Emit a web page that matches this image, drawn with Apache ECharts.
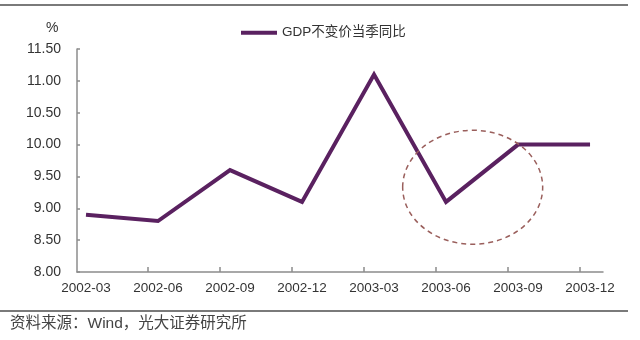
<!DOCTYPE html>
<html>
<head>
<meta charset="utf-8">
<script src="https://cdn.jsdelivr.net/npm/echarts@6/dist/echarts.min.js"></script>
<style>
  html, body { margin: 0; padding: 0; background: #fff; }
  #chart { width: 640px; height: 340px; }
</style>
</head>
<body>
<div id="chart"></div>
<script>
// Quarterly real GDP growth, year on year (%)
const quarters = ['2002-03', '2002-06', '2002-09', '2002-12', '2003-03', '2003-06', '2003-09', '2003-12'];
const gdpYoY = [8.9, 8.8, 9.6, 9.1, 11.1, 9.1, 10.0, 10.0];
const yTicks = { min: 8, max: 11.5, step: 0.5 };
const seriesName = 'GDP不变价当季同比';
const sourceNote = '资料来源：Wind，光大证券研究所';

const FONT = '"Liberation Sans", Arial, "Noto Sans CJK SC", sans-serif';
const LINE_COLOR = '#5a2160';

// Tick marks sit just before each quarter point (date-style axis)
const tickOffset = 0.86;
const tickPositions = quarters.slice(1).map((_, i) => i + tickOffset);

const chart = echarts.init(document.getElementById('chart'), null, { renderer: 'canvas' });

chart.setOption({
  animation: false,
  backgroundColor: '#fff',
  grid: { left: 77, right: 37, top: 49, bottom: 68, containLabel: false },
  legend: {
    data: [{ name: seriesName, icon: 'rect' }],
    left: 236,
    top: 21,
    itemWidth: 36,
    itemHeight: 4,
    itemGap: 4,
    textStyle: { fontFamily: FONT, fontSize: 13.5, color: '#333' }
  },
  xAxis: {
    type: 'value',
    min: -0.125,
    max: 7.18,
    splitLine: { show: false },
    axisLine: { show: true, onZero: false, lineStyle: { color: '#8c8c8c', width: 1.5 } },
    axisTick: { show: true, inside: true, length: 5, customValues: tickPositions, lineStyle: { color: '#8c8c8c', width: 1.5 } },
    axisLabel: {
      customValues: quarters.map((_, i) => i),
      formatter: v => quarters[Math.round(v)],
      fontFamily: FONT, fontSize: 13.5, color: '#333', margin: 10
    }
  },
  yAxis: {
    type: 'value',
    min: yTicks.min,
    max: yTicks.max,
    interval: yTicks.step,
    splitLine: { show: false },
    axisLine: { show: true, onZero: false, lineStyle: { color: '#8c8c8c', width: 1.5 } },
    axisTick: { show: true, inside: true, length: 3, lineStyle: { color: '#8c8c8c', width: 1.5 } },
    axisLabel: {
      formatter: v => v.toFixed(2),
      fontFamily: FONT, fontSize: 14, color: '#333', margin: 16
    }
  },
  series: [{
    name: seriesName,
    type: 'line',
    data: gdpYoY.map((v, i) => [i, v]),
    showSymbol: false,
    symbol: 'none',
    lineStyle: { color: LINE_COLOR, width: 4, join: 'miter' },
    itemStyle: { color: LINE_COLOR }
  }]
});

// Annotation ring around the 2003 rebound, placed in data space
const center = chart.convertToPixel({ gridIndex: 0 }, [5.37, 9.33]);

chart.setOption({
  graphic: [
    { type: 'line', shape: { x1: 0, y1: 5, x2: 628, y2: 5 }, style: { stroke: '#7a7a7a', lineWidth: 2 } },
    { type: 'line', shape: { x1: 0, y1: 311, x2: 628, y2: 311 }, style: { stroke: '#7a7a7a', lineWidth: 2 } },
    { type: 'text', left: 46, top: 21, style: { text: '%', font: '14px ' + FONT, fill: '#333' } },
    {
      type: 'ellipse',
      shape: { cx: center[0], cy: center[1], rx: 70, ry: 57 },
      style: { fill: 'none', stroke: '#9a5f5c', lineWidth: 1.5, lineDash: [5, 4] },
      z: 10
    },
    { type: 'text', left: 10, top: 316, style: { text: sourceNote, font: '15.5px ' + FONT, fill: '#444' } }
  ]
});
</script>
</body>
</html>
